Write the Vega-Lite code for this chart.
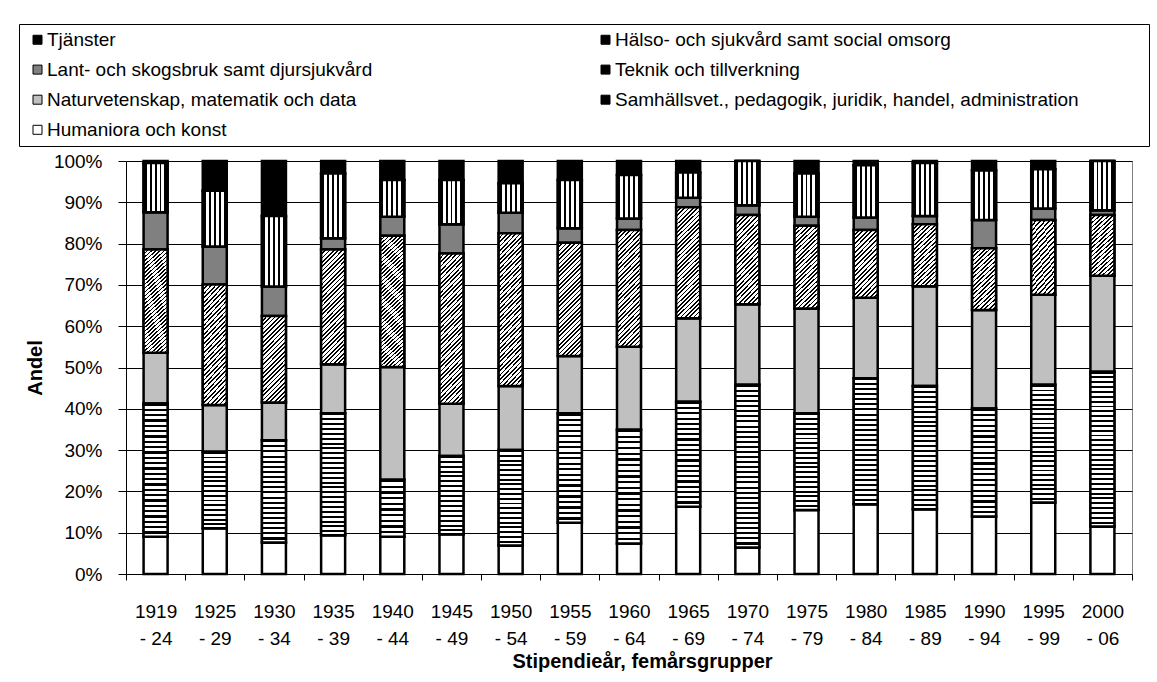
{
"$schema":"https://vega.github.io/schema/vega-lite/v6.json",
"width":1006,"height":413,
"autosize":{"type":"none"},
"padding":{"left":126,"top":161,"right":25,"bottom":108},
"background":"white",
"datasets":{
"cats":[{"k":"hum","c":"Humaniora och konst","r":1},{"k":"sam","c":"Samhällsvet., pedagogik, juridik, handel, administration","r":2},{"k":"nat","c":"Naturvetenskap, matematik och data","r":3},{"k":"tek","c":"Teknik och tillverkning","r":4},{"k":"lan","c":"Lant- och skogsbruk samt djursjukvård","r":5},{"k":"hal","c":"Hälso- och sjukvård samt social omsorg","r":6},{"k":"tja","c":"Tjänster","r":7}],
"shares":[
{"p":"1919 - 24","k":"hum","v":9.0},{"p":"1919 - 24","k":"sam","v":32.3},{"p":"1919 - 24","k":"nat","v":12.3},{"p":"1919 - 24","k":"tek","v":25.0},{"p":"1919 - 24","k":"lan","v":9.0},{"p":"1919 - 24","k":"hal","v":11.9},{"p":"1919 - 24","k":"tja","v":0.5},
{"p":"1925 - 29","k":"hum","v":11.1},{"p":"1925 - 29","k":"sam","v":18.5},{"p":"1925 - 29","k":"nat","v":11.3},{"p":"1925 - 29","k":"tek","v":29.2},{"p":"1925 - 29","k":"lan","v":9.2},{"p":"1925 - 29","k":"hal","v":13.5},{"p":"1925 - 29","k":"tja","v":7.2},
{"p":"1930 - 34","k":"hum","v":7.6},{"p":"1930 - 34","k":"sam","v":24.8},{"p":"1930 - 34","k":"nat","v":9.1},{"p":"1930 - 34","k":"tek","v":21.0},{"p":"1930 - 34","k":"lan","v":7.1},{"p":"1930 - 34","k":"hal","v":17.1},{"p":"1930 - 34","k":"tja","v":13.3},
{"p":"1935 - 39","k":"hum","v":9.4},{"p":"1935 - 39","k":"sam","v":29.5},{"p":"1935 - 39","k":"nat","v":11.9},{"p":"1935 - 39","k":"tek","v":27.8},{"p":"1935 - 39","k":"lan","v":2.7},{"p":"1935 - 39","k":"hal","v":15.7},{"p":"1935 - 39","k":"tja","v":3.0},
{"p":"1940 - 44","k":"hum","v":9.0},{"p":"1940 - 44","k":"sam","v":13.8},{"p":"1940 - 44","k":"nat","v":27.3},{"p":"1940 - 44","k":"tek","v":31.8},{"p":"1940 - 44","k":"lan","v":4.6},{"p":"1940 - 44","k":"hal","v":8.9},{"p":"1940 - 44","k":"tja","v":4.6},
{"p":"1945 - 49","k":"hum","v":9.6},{"p":"1945 - 49","k":"sam","v":19.0},{"p":"1945 - 49","k":"nat","v":12.6},{"p":"1945 - 49","k":"tek","v":36.4},{"p":"1945 - 49","k":"lan","v":7.1},{"p":"1945 - 49","k":"hal","v":10.7},{"p":"1945 - 49","k":"tja","v":4.6},
{"p":"1950 - 54","k":"hum","v":6.9},{"p":"1950 - 54","k":"sam","v":23.1},{"p":"1950 - 54","k":"nat","v":15.5},{"p":"1950 - 54","k":"tek","v":37.0},{"p":"1950 - 54","k":"lan","v":5.0},{"p":"1950 - 54","k":"hal","v":7.1},{"p":"1950 - 54","k":"tja","v":5.4},
{"p":"1955 - 59","k":"hum","v":12.4},{"p":"1955 - 59","k":"sam","v":26.5},{"p":"1955 - 59","k":"nat","v":13.9},{"p":"1955 - 59","k":"tek","v":27.4},{"p":"1955 - 59","k":"lan","v":3.5},{"p":"1955 - 59","k":"hal","v":11.7},{"p":"1955 - 59","k":"tja","v":4.6},
{"p":"1960 - 64","k":"hum","v":7.4},{"p":"1960 - 64","k":"sam","v":27.5},{"p":"1960 - 64","k":"nat","v":20.1},{"p":"1960 - 64","k":"tek","v":28.3},{"p":"1960 - 64","k":"lan","v":2.8},{"p":"1960 - 64","k":"hal","v":10.5},{"p":"1960 - 64","k":"tja","v":3.4},
{"p":"1965 - 69","k":"hum","v":16.3},{"p":"1965 - 69","k":"sam","v":25.4},{"p":"1965 - 69","k":"nat","v":20.2},{"p":"1965 - 69","k":"tek","v":26.9},{"p":"1965 - 69","k":"lan","v":2.3},{"p":"1965 - 69","k":"hal","v":6.1},{"p":"1965 - 69","k":"tja","v":2.8},
{"p":"1970 - 74","k":"hum","v":6.4},{"p":"1970 - 74","k":"sam","v":39.4},{"p":"1970 - 74","k":"nat","v":19.5},{"p":"1970 - 74","k":"tek","v":21.6},{"p":"1970 - 74","k":"lan","v":2.4},{"p":"1970 - 74","k":"hal","v":10.7},{"p":"1970 - 74","k":"tja","v":0},
{"p":"1975 - 79","k":"hum","v":15.5},{"p":"1975 - 79","k":"sam","v":23.4},{"p":"1975 - 79","k":"nat","v":25.4},{"p":"1975 - 79","k":"tek","v":20.0},{"p":"1975 - 79","k":"lan","v":2.2},{"p":"1975 - 79","k":"hal","v":10.5},{"p":"1975 - 79","k":"tja","v":3.0},
{"p":"1980 - 84","k":"hum","v":16.9},{"p":"1980 - 84","k":"sam","v":30.5},{"p":"1980 - 84","k":"nat","v":19.5},{"p":"1980 - 84","k":"tek","v":16.4},{"p":"1980 - 84","k":"lan","v":3.0},{"p":"1980 - 84","k":"hal","v":12.7},{"p":"1980 - 84","k":"tja","v":1.0},
{"p":"1985 - 89","k":"hum","v":15.7},{"p":"1985 - 89","k":"sam","v":29.8},{"p":"1985 - 89","k":"nat","v":24.2},{"p":"1985 - 89","k":"tek","v":15.0},{"p":"1985 - 89","k":"lan","v":2.0},{"p":"1985 - 89","k":"hal","v":12.8},{"p":"1985 - 89","k":"tja","v":0.5},
{"p":"1990 - 94","k":"hum","v":13.9},{"p":"1990 - 94","k":"sam","v":26.2},{"p":"1990 - 94","k":"nat","v":23.8},{"p":"1990 - 94","k":"tek","v":15.0},{"p":"1990 - 94","k":"lan","v":6.8},{"p":"1990 - 94","k":"hal","v":12.0},{"p":"1990 - 94","k":"tja","v":2.3},
{"p":"1995 - 99","k":"hum","v":17.3},{"p":"1995 - 99","k":"sam","v":28.5},{"p":"1995 - 99","k":"nat","v":21.8},{"p":"1995 - 99","k":"tek","v":18.1},{"p":"1995 - 99","k":"lan","v":2.8},{"p":"1995 - 99","k":"hal","v":9.5},{"p":"1995 - 99","k":"tja","v":2.0},
{"p":"2000 - 06","k":"hum","v":11.5},{"p":"2000 - 06","k":"sam","v":37.5},{"p":"2000 - 06","k":"nat","v":23.2},{"p":"2000 - 06","k":"tek","v":14.7},{"p":"2000 - 06","k":"lan","v":1.2},{"p":"2000 - 06","k":"hal","v":11.9},{"p":"2000 - 06","k":"tja","v":0}
]},
"data":{"name":"shares"},
"transform":[
 {"lookup":"k","from":{"data":{"name":"cats"},"key":"k","fields":["c","r"]}},
 {"stack":"v","groupby":["p"],"sort":[{"field":"r","order":"ascending"}],"as":["y0","y1"]}
],
"encoding":{
"x":{"field":"p","type":"ordinal","sort":null,"scale":{"paddingInner":0,"paddingOuter":0},
 "axis":{"title":"Stipendieår, femårsgrupper","titleFontSize":20,"titleFontWeight":"bold","titleColor":"#000","titlePadding":3,"titleX":516,"titleAlign":"center","labelAngle":0,"labelFontSize":19,"labelColor":"#000","labelPadding":22,"labelLineHeight":27,"labelExpr":"[slice(datum.label,0,4), slice(datum.label,5)]","tickBand":"extent","tickSize":6,"tickColor":"#000","domainColor":"#000","grid":false}},
"y":{"field":"y0","type":"quantitative","scale":{"domain":[0,100],"nice":false},
 "axis":{"title":"Andel","titleFontSize":20,"titleFontWeight":"bold","titleColor":"#000","titlePadding":8,"values":[0,10,20,30,40,50,60,70,80,90,100],"labelExpr":"datum.value + '%'","labelFontSize":19,"labelColor":"#000","labelPadding":16,"tickSize":8,"tickColor":"#000","domainColor":"#000","grid":true,"gridColor":"#000","gridWidth":1}},
"y2":{"field":"y1"}
},
"layer":[
{"mark":{"type":"bar","width":24,"stroke":"#000","strokeWidth":2.5},
 "encoding":{"fill":{"field":"c","type":"nominal",
  "scale":{"domain":["Tjänster","Lant- och skogsbruk samt djursjukvård","Naturvetenskap, matematik och data","Humaniora och konst","Hälso- och sjukvård samt social omsorg","Teknik och tillverkning","Samhällsvet., pedagogik, juridik, handel, administration"],"range":["#000","#808080","#c0c0c0","#fff","#000","#000","#000"]},
  "legend":{"title":"\u2003\u2003\u2003\u2003","titleOrient":"right","titleFontSize":19,"titlePadding":64,"orient":"none","legendX":-107,"legendY":-137,"columns":2,"columnPadding":220,"rowPadding":10.1,"padding":6,"symbolOffset":3,"symbolType":"square","symbolSize":81,"symbolStrokeColor":"#000","symbolStrokeWidth":1,"labelFontSize":19,"labelColor":"#000","labelOffset":0,"labelLimit":0,"strokeColor":"#000","fillColor":"#fff"}}}},
{"transform":[{"filter":"datum.k==='hal'"}],
 "mark":{"type":"bar","width":24,"stroke":"#000","strokeWidth":2.5,"fill":{"gradient":"linear","x1":0,"y1":0,"x2":1,"y2":0,"stops":[{"offset":0,"color":"#000"},{"offset":0.13,"color":"#000"},{"offset":0.13,"color":"#fff"},{"offset":0.255,"color":"#fff"},{"offset":0.255,"color":"#000"},{"offset":0.335,"color":"#000"},{"offset":0.335,"color":"#fff"},{"offset":0.46,"color":"#fff"},{"offset":0.46,"color":"#000"},{"offset":0.54,"color":"#000"},{"offset":0.54,"color":"#fff"},{"offset":0.665,"color":"#fff"},{"offset":0.665,"color":"#000"},{"offset":0.745,"color":"#000"},{"offset":0.745,"color":"#fff"},{"offset":0.87,"color":"#fff"},{"offset":0.87,"color":"#000"},{"offset":1,"color":"#000"}]}}},
{"transform":[{"filter":"datum.k==='tek' && datum.v < 19"}],
 "mark":{"type":"bar","width":24,"stroke":"#000","strokeWidth":2.5,"fill":{"gradient":"linear","x1":0,"y1":0,"x2":0.438,"y2":1.205,"stops":[{"offset":0,"color":"#000"},{"offset":0.02,"color":"#000"},{"offset":0.02,"color":"#fff"},{"offset":0.05,"color":"#fff"},{"offset":0.05,"color":"#000"},{"offset":0.07,"color":"#000"},{"offset":0.07,"color":"#fff"},{"offset":0.1,"color":"#fff"},{"offset":0.1,"color":"#000"},{"offset":0.12,"color":"#000"},{"offset":0.12,"color":"#fff"},{"offset":0.15,"color":"#fff"},{"offset":0.15,"color":"#000"},{"offset":0.17,"color":"#000"},{"offset":0.17,"color":"#fff"},{"offset":0.2,"color":"#fff"},{"offset":0.2,"color":"#000"},{"offset":0.22,"color":"#000"},{"offset":0.22,"color":"#fff"},{"offset":0.25,"color":"#fff"},{"offset":0.25,"color":"#000"},{"offset":0.27,"color":"#000"},{"offset":0.27,"color":"#fff"},{"offset":0.3,"color":"#fff"},{"offset":0.3,"color":"#000"},{"offset":0.32,"color":"#000"},{"offset":0.32,"color":"#fff"},{"offset":0.35,"color":"#fff"},{"offset":0.35,"color":"#000"},{"offset":0.37,"color":"#000"},{"offset":0.37,"color":"#fff"},{"offset":0.4,"color":"#fff"},{"offset":0.4,"color":"#000"},{"offset":0.42,"color":"#000"},{"offset":0.42,"color":"#fff"},{"offset":0.45,"color":"#fff"},{"offset":0.45,"color":"#000"},{"offset":0.47,"color":"#000"},{"offset":0.47,"color":"#fff"},{"offset":0.5,"color":"#fff"},{"offset":0.5,"color":"#000"},{"offset":0.52,"color":"#000"},{"offset":0.52,"color":"#fff"},{"offset":0.55,"color":"#fff"},{"offset":0.55,"color":"#000"},{"offset":0.57,"color":"#000"},{"offset":0.57,"color":"#fff"},{"offset":0.6,"color":"#fff"},{"offset":0.6,"color":"#000"},{"offset":0.62,"color":"#000"},{"offset":0.62,"color":"#fff"},{"offset":0.65,"color":"#fff"},{"offset":0.65,"color":"#000"},{"offset":0.67,"color":"#000"},{"offset":0.67,"color":"#fff"},{"offset":0.7,"color":"#fff"},{"offset":0.7,"color":"#000"},{"offset":0.72,"color":"#000"},{"offset":0.72,"color":"#fff"},{"offset":0.75,"color":"#fff"},{"offset":0.75,"color":"#000"},{"offset":0.77,"color":"#000"},{"offset":0.77,"color":"#fff"},{"offset":0.8,"color":"#fff"},{"offset":0.8,"color":"#000"},{"offset":0.82,"color":"#000"},{"offset":0.82,"color":"#fff"},{"offset":0.85,"color":"#fff"},{"offset":0.85,"color":"#000"},{"offset":0.87,"color":"#000"},{"offset":0.87,"color":"#fff"},{"offset":0.9,"color":"#fff"},{"offset":0.9,"color":"#000"},{"offset":0.92,"color":"#000"},{"offset":0.92,"color":"#fff"},{"offset":0.95,"color":"#fff"},{"offset":0.95,"color":"#000"},{"offset":0.97,"color":"#000"},{"offset":0.97,"color":"#fff"},{"offset":1,"color":"#fff"}]}}},
{"transform":[{"filter":"datum.k==='tek' && datum.v >= 19 && datum.v < 23"}],
 "mark":{"type":"bar","width":24,"stroke":"#000","strokeWidth":2.5,"fill":{"gradient":"linear","x1":0,"y1":0,"x2":0.331,"y2":1.187,"stops":[{"offset":0,"color":"#000"},{"offset":0.016,"color":"#000"},{"offset":0.016,"color":"#fff"},{"offset":0.04,"color":"#fff"},{"offset":0.04,"color":"#000"},{"offset":0.056,"color":"#000"},{"offset":0.056,"color":"#fff"},{"offset":0.08,"color":"#fff"},{"offset":0.08,"color":"#000"},{"offset":0.096,"color":"#000"},{"offset":0.096,"color":"#fff"},{"offset":0.12,"color":"#fff"},{"offset":0.12,"color":"#000"},{"offset":0.136,"color":"#000"},{"offset":0.136,"color":"#fff"},{"offset":0.16,"color":"#fff"},{"offset":0.16,"color":"#000"},{"offset":0.176,"color":"#000"},{"offset":0.176,"color":"#fff"},{"offset":0.2,"color":"#fff"},{"offset":0.2,"color":"#000"},{"offset":0.216,"color":"#000"},{"offset":0.216,"color":"#fff"},{"offset":0.24,"color":"#fff"},{"offset":0.24,"color":"#000"},{"offset":0.256,"color":"#000"},{"offset":0.256,"color":"#fff"},{"offset":0.28,"color":"#fff"},{"offset":0.28,"color":"#000"},{"offset":0.296,"color":"#000"},{"offset":0.296,"color":"#fff"},{"offset":0.32,"color":"#fff"},{"offset":0.32,"color":"#000"},{"offset":0.336,"color":"#000"},{"offset":0.336,"color":"#fff"},{"offset":0.36,"color":"#fff"},{"offset":0.36,"color":"#000"},{"offset":0.376,"color":"#000"},{"offset":0.376,"color":"#fff"},{"offset":0.4,"color":"#fff"},{"offset":0.4,"color":"#000"},{"offset":0.416,"color":"#000"},{"offset":0.416,"color":"#fff"},{"offset":0.44,"color":"#fff"},{"offset":0.44,"color":"#000"},{"offset":0.456,"color":"#000"},{"offset":0.456,"color":"#fff"},{"offset":0.48,"color":"#fff"},{"offset":0.48,"color":"#000"},{"offset":0.496,"color":"#000"},{"offset":0.496,"color":"#fff"},{"offset":0.52,"color":"#fff"},{"offset":0.52,"color":"#000"},{"offset":0.536,"color":"#000"},{"offset":0.536,"color":"#fff"},{"offset":0.56,"color":"#fff"},{"offset":0.56,"color":"#000"},{"offset":0.576,"color":"#000"},{"offset":0.576,"color":"#fff"},{"offset":0.6,"color":"#fff"},{"offset":0.6,"color":"#000"},{"offset":0.616,"color":"#000"},{"offset":0.616,"color":"#fff"},{"offset":0.64,"color":"#fff"},{"offset":0.64,"color":"#000"},{"offset":0.656,"color":"#000"},{"offset":0.656,"color":"#fff"},{"offset":0.68,"color":"#fff"},{"offset":0.68,"color":"#000"},{"offset":0.696,"color":"#000"},{"offset":0.696,"color":"#fff"},{"offset":0.72,"color":"#fff"},{"offset":0.72,"color":"#000"},{"offset":0.736,"color":"#000"},{"offset":0.736,"color":"#fff"},{"offset":0.76,"color":"#fff"},{"offset":0.76,"color":"#000"},{"offset":0.776,"color":"#000"},{"offset":0.776,"color":"#fff"},{"offset":0.8,"color":"#fff"},{"offset":0.8,"color":"#000"},{"offset":0.816,"color":"#000"},{"offset":0.816,"color":"#fff"},{"offset":0.84,"color":"#fff"},{"offset":0.84,"color":"#000"},{"offset":0.856,"color":"#000"},{"offset":0.856,"color":"#fff"},{"offset":0.88,"color":"#fff"},{"offset":0.88,"color":"#000"},{"offset":0.896,"color":"#000"},{"offset":0.896,"color":"#fff"},{"offset":0.92,"color":"#fff"},{"offset":0.92,"color":"#000"},{"offset":0.936,"color":"#000"},{"offset":0.936,"color":"#fff"},{"offset":0.96,"color":"#fff"},{"offset":0.96,"color":"#000"},{"offset":0.976,"color":"#000"},{"offset":0.976,"color":"#fff"},{"offset":1,"color":"#fff"}]}}},
{"transform":[{"filter":"datum.k==='tek' && datum.v >= 23 && datum.v < 30"}],
 "mark":{"type":"bar","width":24,"stroke":"#000","strokeWidth":2.5,"fill":{"gradient":"linear","x1":0,"y1":0,"x2":0.246,"y2":1.16,"stops":[{"offset":0,"color":"#000"},{"offset":0.0125,"color":"#000"},{"offset":0.0125,"color":"#fff"},{"offset":0.03125,"color":"#fff"},{"offset":0.03125,"color":"#000"},{"offset":0.04375,"color":"#000"},{"offset":0.04375,"color":"#fff"},{"offset":0.0625,"color":"#fff"},{"offset":0.0625,"color":"#000"},{"offset":0.075,"color":"#000"},{"offset":0.075,"color":"#fff"},{"offset":0.09375,"color":"#fff"},{"offset":0.09375,"color":"#000"},{"offset":0.10625,"color":"#000"},{"offset":0.10625,"color":"#fff"},{"offset":0.125,"color":"#fff"},{"offset":0.125,"color":"#000"},{"offset":0.1375,"color":"#000"},{"offset":0.1375,"color":"#fff"},{"offset":0.15625,"color":"#fff"},{"offset":0.15625,"color":"#000"},{"offset":0.16875,"color":"#000"},{"offset":0.16875,"color":"#fff"},{"offset":0.1875,"color":"#fff"},{"offset":0.1875,"color":"#000"},{"offset":0.2,"color":"#000"},{"offset":0.2,"color":"#fff"},{"offset":0.21875,"color":"#fff"},{"offset":0.21875,"color":"#000"},{"offset":0.23125,"color":"#000"},{"offset":0.23125,"color":"#fff"},{"offset":0.25,"color":"#fff"},{"offset":0.25,"color":"#000"},{"offset":0.2625,"color":"#000"},{"offset":0.2625,"color":"#fff"},{"offset":0.28125,"color":"#fff"},{"offset":0.28125,"color":"#000"},{"offset":0.29375,"color":"#000"},{"offset":0.29375,"color":"#fff"},{"offset":0.3125,"color":"#fff"},{"offset":0.3125,"color":"#000"},{"offset":0.325,"color":"#000"},{"offset":0.325,"color":"#fff"},{"offset":0.34375,"color":"#fff"},{"offset":0.34375,"color":"#000"},{"offset":0.35625,"color":"#000"},{"offset":0.35625,"color":"#fff"},{"offset":0.375,"color":"#fff"},{"offset":0.375,"color":"#000"},{"offset":0.3875,"color":"#000"},{"offset":0.3875,"color":"#fff"},{"offset":0.40625,"color":"#fff"},{"offset":0.40625,"color":"#000"},{"offset":0.41875,"color":"#000"},{"offset":0.41875,"color":"#fff"},{"offset":0.4375,"color":"#fff"},{"offset":0.4375,"color":"#000"},{"offset":0.45,"color":"#000"},{"offset":0.45,"color":"#fff"},{"offset":0.46875,"color":"#fff"},{"offset":0.46875,"color":"#000"},{"offset":0.48125,"color":"#000"},{"offset":0.48125,"color":"#fff"},{"offset":0.5,"color":"#fff"},{"offset":0.5,"color":"#000"},{"offset":0.5125,"color":"#000"},{"offset":0.5125,"color":"#fff"},{"offset":0.53125,"color":"#fff"},{"offset":0.53125,"color":"#000"},{"offset":0.54375,"color":"#000"},{"offset":0.54375,"color":"#fff"},{"offset":0.5625,"color":"#fff"},{"offset":0.5625,"color":"#000"},{"offset":0.575,"color":"#000"},{"offset":0.575,"color":"#fff"},{"offset":0.59375,"color":"#fff"},{"offset":0.59375,"color":"#000"},{"offset":0.60625,"color":"#000"},{"offset":0.60625,"color":"#fff"},{"offset":0.625,"color":"#fff"},{"offset":0.625,"color":"#000"},{"offset":0.6375,"color":"#000"},{"offset":0.6375,"color":"#fff"},{"offset":0.65625,"color":"#fff"},{"offset":0.65625,"color":"#000"},{"offset":0.66875,"color":"#000"},{"offset":0.66875,"color":"#fff"},{"offset":0.6875,"color":"#fff"},{"offset":0.6875,"color":"#000"},{"offset":0.7,"color":"#000"},{"offset":0.7,"color":"#fff"},{"offset":0.71875,"color":"#fff"},{"offset":0.71875,"color":"#000"},{"offset":0.73125,"color":"#000"},{"offset":0.73125,"color":"#fff"},{"offset":0.75,"color":"#fff"},{"offset":0.75,"color":"#000"},{"offset":0.7625,"color":"#000"},{"offset":0.7625,"color":"#fff"},{"offset":0.78125,"color":"#fff"},{"offset":0.78125,"color":"#000"},{"offset":0.79375,"color":"#000"},{"offset":0.79375,"color":"#fff"},{"offset":0.8125,"color":"#fff"},{"offset":0.8125,"color":"#000"},{"offset":0.825,"color":"#000"},{"offset":0.825,"color":"#fff"},{"offset":0.84375,"color":"#fff"},{"offset":0.84375,"color":"#000"},{"offset":0.85625,"color":"#000"},{"offset":0.85625,"color":"#fff"},{"offset":0.875,"color":"#fff"},{"offset":0.875,"color":"#000"},{"offset":0.8875,"color":"#000"},{"offset":0.8875,"color":"#fff"},{"offset":0.90625,"color":"#fff"},{"offset":0.90625,"color":"#000"},{"offset":0.91875,"color":"#000"},{"offset":0.91875,"color":"#fff"},{"offset":0.9375,"color":"#fff"},{"offset":0.9375,"color":"#000"},{"offset":0.95,"color":"#000"},{"offset":0.95,"color":"#fff"},{"offset":0.96875,"color":"#fff"},{"offset":0.96875,"color":"#000"},{"offset":0.98125,"color":"#000"},{"offset":0.98125,"color":"#fff"},{"offset":1,"color":"#fff"}]}}},
{"transform":[{"filter":"datum.k==='tek' && datum.v >= 30"}],
 "mark":{"type":"bar","width":24,"stroke":"#000","strokeWidth":2.5,"fill":{"gradient":"linear","x1":0,"y1":0,"x2":0.188,"y2":1.134,"stops":[{"offset":0,"color":"#000"},{"offset":0.01,"color":"#000"},{"offset":0.01,"color":"#fff"},{"offset":0.025,"color":"#fff"},{"offset":0.025,"color":"#000"},{"offset":0.035,"color":"#000"},{"offset":0.035,"color":"#fff"},{"offset":0.05,"color":"#fff"},{"offset":0.05,"color":"#000"},{"offset":0.06,"color":"#000"},{"offset":0.06,"color":"#fff"},{"offset":0.075,"color":"#fff"},{"offset":0.075,"color":"#000"},{"offset":0.085,"color":"#000"},{"offset":0.085,"color":"#fff"},{"offset":0.1,"color":"#fff"},{"offset":0.1,"color":"#000"},{"offset":0.11,"color":"#000"},{"offset":0.11,"color":"#fff"},{"offset":0.125,"color":"#fff"},{"offset":0.125,"color":"#000"},{"offset":0.135,"color":"#000"},{"offset":0.135,"color":"#fff"},{"offset":0.15,"color":"#fff"},{"offset":0.15,"color":"#000"},{"offset":0.16,"color":"#000"},{"offset":0.16,"color":"#fff"},{"offset":0.175,"color":"#fff"},{"offset":0.175,"color":"#000"},{"offset":0.185,"color":"#000"},{"offset":0.185,"color":"#fff"},{"offset":0.2,"color":"#fff"},{"offset":0.2,"color":"#000"},{"offset":0.21,"color":"#000"},{"offset":0.21,"color":"#fff"},{"offset":0.225,"color":"#fff"},{"offset":0.225,"color":"#000"},{"offset":0.235,"color":"#000"},{"offset":0.235,"color":"#fff"},{"offset":0.25,"color":"#fff"},{"offset":0.25,"color":"#000"},{"offset":0.26,"color":"#000"},{"offset":0.26,"color":"#fff"},{"offset":0.275,"color":"#fff"},{"offset":0.275,"color":"#000"},{"offset":0.285,"color":"#000"},{"offset":0.285,"color":"#fff"},{"offset":0.3,"color":"#fff"},{"offset":0.3,"color":"#000"},{"offset":0.31,"color":"#000"},{"offset":0.31,"color":"#fff"},{"offset":0.325,"color":"#fff"},{"offset":0.325,"color":"#000"},{"offset":0.335,"color":"#000"},{"offset":0.335,"color":"#fff"},{"offset":0.35,"color":"#fff"},{"offset":0.35,"color":"#000"},{"offset":0.36,"color":"#000"},{"offset":0.36,"color":"#fff"},{"offset":0.375,"color":"#fff"},{"offset":0.375,"color":"#000"},{"offset":0.385,"color":"#000"},{"offset":0.385,"color":"#fff"},{"offset":0.4,"color":"#fff"},{"offset":0.4,"color":"#000"},{"offset":0.41,"color":"#000"},{"offset":0.41,"color":"#fff"},{"offset":0.425,"color":"#fff"},{"offset":0.425,"color":"#000"},{"offset":0.435,"color":"#000"},{"offset":0.435,"color":"#fff"},{"offset":0.45,"color":"#fff"},{"offset":0.45,"color":"#000"},{"offset":0.46,"color":"#000"},{"offset":0.46,"color":"#fff"},{"offset":0.475,"color":"#fff"},{"offset":0.475,"color":"#000"},{"offset":0.485,"color":"#000"},{"offset":0.485,"color":"#fff"},{"offset":0.5,"color":"#fff"},{"offset":0.5,"color":"#000"},{"offset":0.51,"color":"#000"},{"offset":0.51,"color":"#fff"},{"offset":0.525,"color":"#fff"},{"offset":0.525,"color":"#000"},{"offset":0.535,"color":"#000"},{"offset":0.535,"color":"#fff"},{"offset":0.55,"color":"#fff"},{"offset":0.55,"color":"#000"},{"offset":0.56,"color":"#000"},{"offset":0.56,"color":"#fff"},{"offset":0.575,"color":"#fff"},{"offset":0.575,"color":"#000"},{"offset":0.585,"color":"#000"},{"offset":0.585,"color":"#fff"},{"offset":0.6,"color":"#fff"},{"offset":0.6,"color":"#000"},{"offset":0.61,"color":"#000"},{"offset":0.61,"color":"#fff"},{"offset":0.625,"color":"#fff"},{"offset":0.625,"color":"#000"},{"offset":0.635,"color":"#000"},{"offset":0.635,"color":"#fff"},{"offset":0.65,"color":"#fff"},{"offset":0.65,"color":"#000"},{"offset":0.66,"color":"#000"},{"offset":0.66,"color":"#fff"},{"offset":0.675,"color":"#fff"},{"offset":0.675,"color":"#000"},{"offset":0.685,"color":"#000"},{"offset":0.685,"color":"#fff"},{"offset":0.7,"color":"#fff"},{"offset":0.7,"color":"#000"},{"offset":0.71,"color":"#000"},{"offset":0.71,"color":"#fff"},{"offset":0.725,"color":"#fff"},{"offset":0.725,"color":"#000"},{"offset":0.735,"color":"#000"},{"offset":0.735,"color":"#fff"},{"offset":0.75,"color":"#fff"},{"offset":0.75,"color":"#000"},{"offset":0.76,"color":"#000"},{"offset":0.76,"color":"#fff"},{"offset":0.775,"color":"#fff"},{"offset":0.775,"color":"#000"},{"offset":0.785,"color":"#000"},{"offset":0.785,"color":"#fff"},{"offset":0.8,"color":"#fff"},{"offset":0.8,"color":"#000"},{"offset":0.81,"color":"#000"},{"offset":0.81,"color":"#fff"},{"offset":0.825,"color":"#fff"},{"offset":0.825,"color":"#000"},{"offset":0.835,"color":"#000"},{"offset":0.835,"color":"#fff"},{"offset":0.85,"color":"#fff"},{"offset":0.85,"color":"#000"},{"offset":0.86,"color":"#000"},{"offset":0.86,"color":"#fff"},{"offset":0.875,"color":"#fff"},{"offset":0.875,"color":"#000"},{"offset":0.885,"color":"#000"},{"offset":0.885,"color":"#fff"},{"offset":0.9,"color":"#fff"},{"offset":0.9,"color":"#000"},{"offset":0.91,"color":"#000"},{"offset":0.91,"color":"#fff"},{"offset":0.925,"color":"#fff"},{"offset":0.925,"color":"#000"},{"offset":0.935,"color":"#000"},{"offset":0.935,"color":"#fff"},{"offset":0.95,"color":"#fff"},{"offset":0.95,"color":"#000"},{"offset":0.96,"color":"#000"},{"offset":0.96,"color":"#fff"},{"offset":0.975,"color":"#fff"},{"offset":0.975,"color":"#000"},{"offset":0.985,"color":"#000"},{"offset":0.985,"color":"#fff"},{"offset":1,"color":"#fff"}]}}},
{"transform":[{"filter":"datum.k==='sam' && datum.v < 16"}],
 "mark":{"type":"bar","width":24,"stroke":"#000","strokeWidth":2.5,"fill":{"gradient":"linear","x1":0,"y1":0,"x2":0,"y2":1,"stops":[{"offset":0,"color":"#000"},{"offset":0.04,"color":"#000"},{"offset":0.04,"color":"#fff"},{"offset":0.1,"color":"#fff"},{"offset":0.1,"color":"#000"},{"offset":0.14,"color":"#000"},{"offset":0.14,"color":"#fff"},{"offset":0.2,"color":"#fff"},{"offset":0.2,"color":"#000"},{"offset":0.24,"color":"#000"},{"offset":0.24,"color":"#fff"},{"offset":0.3,"color":"#fff"},{"offset":0.3,"color":"#000"},{"offset":0.34,"color":"#000"},{"offset":0.34,"color":"#fff"},{"offset":0.4,"color":"#fff"},{"offset":0.4,"color":"#000"},{"offset":0.44,"color":"#000"},{"offset":0.44,"color":"#fff"},{"offset":0.5,"color":"#fff"},{"offset":0.5,"color":"#000"},{"offset":0.54,"color":"#000"},{"offset":0.54,"color":"#fff"},{"offset":0.6,"color":"#fff"},{"offset":0.6,"color":"#000"},{"offset":0.64,"color":"#000"},{"offset":0.64,"color":"#fff"},{"offset":0.7,"color":"#fff"},{"offset":0.7,"color":"#000"},{"offset":0.74,"color":"#000"},{"offset":0.74,"color":"#fff"},{"offset":0.8,"color":"#fff"},{"offset":0.8,"color":"#000"},{"offset":0.84,"color":"#000"},{"offset":0.84,"color":"#fff"},{"offset":0.9,"color":"#fff"},{"offset":0.9,"color":"#000"},{"offset":0.94,"color":"#000"},{"offset":0.94,"color":"#fff"},{"offset":1,"color":"#fff"}]}}},
{"transform":[{"filter":"datum.k==='sam' && datum.v >= 16 && datum.v < 21"}],
 "mark":{"type":"bar","width":24,"stroke":"#000","strokeWidth":2.5,"fill":{"gradient":"linear","x1":0,"y1":0,"x2":0,"y2":1,"stops":[{"offset":0,"color":"#000"},{"offset":0.025,"color":"#000"},{"offset":0.025,"color":"#fff"},{"offset":0.0625,"color":"#fff"},{"offset":0.0625,"color":"#000"},{"offset":0.0875,"color":"#000"},{"offset":0.0875,"color":"#fff"},{"offset":0.125,"color":"#fff"},{"offset":0.125,"color":"#000"},{"offset":0.15,"color":"#000"},{"offset":0.15,"color":"#fff"},{"offset":0.1875,"color":"#fff"},{"offset":0.1875,"color":"#000"},{"offset":0.2125,"color":"#000"},{"offset":0.2125,"color":"#fff"},{"offset":0.25,"color":"#fff"},{"offset":0.25,"color":"#000"},{"offset":0.275,"color":"#000"},{"offset":0.275,"color":"#fff"},{"offset":0.3125,"color":"#fff"},{"offset":0.3125,"color":"#000"},{"offset":0.3375,"color":"#000"},{"offset":0.3375,"color":"#fff"},{"offset":0.375,"color":"#fff"},{"offset":0.375,"color":"#000"},{"offset":0.4,"color":"#000"},{"offset":0.4,"color":"#fff"},{"offset":0.4375,"color":"#fff"},{"offset":0.4375,"color":"#000"},{"offset":0.4625,"color":"#000"},{"offset":0.4625,"color":"#fff"},{"offset":0.5,"color":"#fff"},{"offset":0.5,"color":"#000"},{"offset":0.525,"color":"#000"},{"offset":0.525,"color":"#fff"},{"offset":0.5625,"color":"#fff"},{"offset":0.5625,"color":"#000"},{"offset":0.5875,"color":"#000"},{"offset":0.5875,"color":"#fff"},{"offset":0.625,"color":"#fff"},{"offset":0.625,"color":"#000"},{"offset":0.65,"color":"#000"},{"offset":0.65,"color":"#fff"},{"offset":0.6875,"color":"#fff"},{"offset":0.6875,"color":"#000"},{"offset":0.7125,"color":"#000"},{"offset":0.7125,"color":"#fff"},{"offset":0.75,"color":"#fff"},{"offset":0.75,"color":"#000"},{"offset":0.775,"color":"#000"},{"offset":0.775,"color":"#fff"},{"offset":0.8125,"color":"#fff"},{"offset":0.8125,"color":"#000"},{"offset":0.8375,"color":"#000"},{"offset":0.8375,"color":"#fff"},{"offset":0.875,"color":"#fff"},{"offset":0.875,"color":"#000"},{"offset":0.9,"color":"#000"},{"offset":0.9,"color":"#fff"},{"offset":0.9375,"color":"#fff"},{"offset":0.9375,"color":"#000"},{"offset":0.9625,"color":"#000"},{"offset":0.9625,"color":"#fff"},{"offset":1,"color":"#fff"}]}}},
{"transform":[{"filter":"datum.k==='sam' && datum.v >= 21 && datum.v < 28"}],
 "mark":{"type":"bar","width":24,"stroke":"#000","strokeWidth":2.5,"fill":{"gradient":"linear","x1":0,"y1":0,"x2":0,"y2":1,"stops":[{"offset":0,"color":"#000"},{"offset":0.02,"color":"#000"},{"offset":0.02,"color":"#fff"},{"offset":0.05,"color":"#fff"},{"offset":0.05,"color":"#000"},{"offset":0.07,"color":"#000"},{"offset":0.07,"color":"#fff"},{"offset":0.1,"color":"#fff"},{"offset":0.1,"color":"#000"},{"offset":0.12,"color":"#000"},{"offset":0.12,"color":"#fff"},{"offset":0.15,"color":"#fff"},{"offset":0.15,"color":"#000"},{"offset":0.17,"color":"#000"},{"offset":0.17,"color":"#fff"},{"offset":0.2,"color":"#fff"},{"offset":0.2,"color":"#000"},{"offset":0.22,"color":"#000"},{"offset":0.22,"color":"#fff"},{"offset":0.25,"color":"#fff"},{"offset":0.25,"color":"#000"},{"offset":0.27,"color":"#000"},{"offset":0.27,"color":"#fff"},{"offset":0.3,"color":"#fff"},{"offset":0.3,"color":"#000"},{"offset":0.32,"color":"#000"},{"offset":0.32,"color":"#fff"},{"offset":0.35,"color":"#fff"},{"offset":0.35,"color":"#000"},{"offset":0.37,"color":"#000"},{"offset":0.37,"color":"#fff"},{"offset":0.4,"color":"#fff"},{"offset":0.4,"color":"#000"},{"offset":0.42,"color":"#000"},{"offset":0.42,"color":"#fff"},{"offset":0.45,"color":"#fff"},{"offset":0.45,"color":"#000"},{"offset":0.47,"color":"#000"},{"offset":0.47,"color":"#fff"},{"offset":0.5,"color":"#fff"},{"offset":0.5,"color":"#000"},{"offset":0.52,"color":"#000"},{"offset":0.52,"color":"#fff"},{"offset":0.55,"color":"#fff"},{"offset":0.55,"color":"#000"},{"offset":0.57,"color":"#000"},{"offset":0.57,"color":"#fff"},{"offset":0.6,"color":"#fff"},{"offset":0.6,"color":"#000"},{"offset":0.62,"color":"#000"},{"offset":0.62,"color":"#fff"},{"offset":0.65,"color":"#fff"},{"offset":0.65,"color":"#000"},{"offset":0.67,"color":"#000"},{"offset":0.67,"color":"#fff"},{"offset":0.7,"color":"#fff"},{"offset":0.7,"color":"#000"},{"offset":0.72,"color":"#000"},{"offset":0.72,"color":"#fff"},{"offset":0.75,"color":"#fff"},{"offset":0.75,"color":"#000"},{"offset":0.77,"color":"#000"},{"offset":0.77,"color":"#fff"},{"offset":0.8,"color":"#fff"},{"offset":0.8,"color":"#000"},{"offset":0.82,"color":"#000"},{"offset":0.82,"color":"#fff"},{"offset":0.85,"color":"#fff"},{"offset":0.85,"color":"#000"},{"offset":0.87,"color":"#000"},{"offset":0.87,"color":"#fff"},{"offset":0.9,"color":"#fff"},{"offset":0.9,"color":"#000"},{"offset":0.92,"color":"#000"},{"offset":0.92,"color":"#fff"},{"offset":0.95,"color":"#fff"},{"offset":0.95,"color":"#000"},{"offset":0.97,"color":"#000"},{"offset":0.97,"color":"#fff"},{"offset":1,"color":"#fff"}]}}},
{"transform":[{"filter":"datum.k==='sam' && datum.v >= 28 && datum.v < 34"}],
 "mark":{"type":"bar","width":24,"stroke":"#000","strokeWidth":2.5,"fill":{"gradient":"linear","x1":0,"y1":0,"x2":0,"y2":1,"stops":[{"offset":0,"color":"#000"},{"offset":0.016,"color":"#000"},{"offset":0.016,"color":"#fff"},{"offset":0.04,"color":"#fff"},{"offset":0.04,"color":"#000"},{"offset":0.056,"color":"#000"},{"offset":0.056,"color":"#fff"},{"offset":0.08,"color":"#fff"},{"offset":0.08,"color":"#000"},{"offset":0.096,"color":"#000"},{"offset":0.096,"color":"#fff"},{"offset":0.12,"color":"#fff"},{"offset":0.12,"color":"#000"},{"offset":0.136,"color":"#000"},{"offset":0.136,"color":"#fff"},{"offset":0.16,"color":"#fff"},{"offset":0.16,"color":"#000"},{"offset":0.176,"color":"#000"},{"offset":0.176,"color":"#fff"},{"offset":0.2,"color":"#fff"},{"offset":0.2,"color":"#000"},{"offset":0.216,"color":"#000"},{"offset":0.216,"color":"#fff"},{"offset":0.24,"color":"#fff"},{"offset":0.24,"color":"#000"},{"offset":0.256,"color":"#000"},{"offset":0.256,"color":"#fff"},{"offset":0.28,"color":"#fff"},{"offset":0.28,"color":"#000"},{"offset":0.296,"color":"#000"},{"offset":0.296,"color":"#fff"},{"offset":0.32,"color":"#fff"},{"offset":0.32,"color":"#000"},{"offset":0.336,"color":"#000"},{"offset":0.336,"color":"#fff"},{"offset":0.36,"color":"#fff"},{"offset":0.36,"color":"#000"},{"offset":0.376,"color":"#000"},{"offset":0.376,"color":"#fff"},{"offset":0.4,"color":"#fff"},{"offset":0.4,"color":"#000"},{"offset":0.416,"color":"#000"},{"offset":0.416,"color":"#fff"},{"offset":0.44,"color":"#fff"},{"offset":0.44,"color":"#000"},{"offset":0.456,"color":"#000"},{"offset":0.456,"color":"#fff"},{"offset":0.48,"color":"#fff"},{"offset":0.48,"color":"#000"},{"offset":0.496,"color":"#000"},{"offset":0.496,"color":"#fff"},{"offset":0.52,"color":"#fff"},{"offset":0.52,"color":"#000"},{"offset":0.536,"color":"#000"},{"offset":0.536,"color":"#fff"},{"offset":0.56,"color":"#fff"},{"offset":0.56,"color":"#000"},{"offset":0.576,"color":"#000"},{"offset":0.576,"color":"#fff"},{"offset":0.6,"color":"#fff"},{"offset":0.6,"color":"#000"},{"offset":0.616,"color":"#000"},{"offset":0.616,"color":"#fff"},{"offset":0.64,"color":"#fff"},{"offset":0.64,"color":"#000"},{"offset":0.656,"color":"#000"},{"offset":0.656,"color":"#fff"},{"offset":0.68,"color":"#fff"},{"offset":0.68,"color":"#000"},{"offset":0.696,"color":"#000"},{"offset":0.696,"color":"#fff"},{"offset":0.72,"color":"#fff"},{"offset":0.72,"color":"#000"},{"offset":0.736,"color":"#000"},{"offset":0.736,"color":"#fff"},{"offset":0.76,"color":"#fff"},{"offset":0.76,"color":"#000"},{"offset":0.776,"color":"#000"},{"offset":0.776,"color":"#fff"},{"offset":0.8,"color":"#fff"},{"offset":0.8,"color":"#000"},{"offset":0.816,"color":"#000"},{"offset":0.816,"color":"#fff"},{"offset":0.84,"color":"#fff"},{"offset":0.84,"color":"#000"},{"offset":0.856,"color":"#000"},{"offset":0.856,"color":"#fff"},{"offset":0.88,"color":"#fff"},{"offset":0.88,"color":"#000"},{"offset":0.896,"color":"#000"},{"offset":0.896,"color":"#fff"},{"offset":0.92,"color":"#fff"},{"offset":0.92,"color":"#000"},{"offset":0.936,"color":"#000"},{"offset":0.936,"color":"#fff"},{"offset":0.96,"color":"#fff"},{"offset":0.96,"color":"#000"},{"offset":0.976,"color":"#000"},{"offset":0.976,"color":"#fff"},{"offset":1,"color":"#fff"}]}}},
{"transform":[{"filter":"datum.k==='sam' && datum.v >= 34"}],
 "mark":{"type":"bar","width":24,"stroke":"#000","strokeWidth":2.5,"fill":{"gradient":"linear","x1":0,"y1":0,"x2":0,"y2":1,"stops":[{"offset":0,"color":"#000"},{"offset":0.0125,"color":"#000"},{"offset":0.0125,"color":"#fff"},{"offset":0.03125,"color":"#fff"},{"offset":0.03125,"color":"#000"},{"offset":0.04375,"color":"#000"},{"offset":0.04375,"color":"#fff"},{"offset":0.0625,"color":"#fff"},{"offset":0.0625,"color":"#000"},{"offset":0.075,"color":"#000"},{"offset":0.075,"color":"#fff"},{"offset":0.09375,"color":"#fff"},{"offset":0.09375,"color":"#000"},{"offset":0.10625,"color":"#000"},{"offset":0.10625,"color":"#fff"},{"offset":0.125,"color":"#fff"},{"offset":0.125,"color":"#000"},{"offset":0.1375,"color":"#000"},{"offset":0.1375,"color":"#fff"},{"offset":0.15625,"color":"#fff"},{"offset":0.15625,"color":"#000"},{"offset":0.16875,"color":"#000"},{"offset":0.16875,"color":"#fff"},{"offset":0.1875,"color":"#fff"},{"offset":0.1875,"color":"#000"},{"offset":0.2,"color":"#000"},{"offset":0.2,"color":"#fff"},{"offset":0.21875,"color":"#fff"},{"offset":0.21875,"color":"#000"},{"offset":0.23125,"color":"#000"},{"offset":0.23125,"color":"#fff"},{"offset":0.25,"color":"#fff"},{"offset":0.25,"color":"#000"},{"offset":0.2625,"color":"#000"},{"offset":0.2625,"color":"#fff"},{"offset":0.28125,"color":"#fff"},{"offset":0.28125,"color":"#000"},{"offset":0.29375,"color":"#000"},{"offset":0.29375,"color":"#fff"},{"offset":0.3125,"color":"#fff"},{"offset":0.3125,"color":"#000"},{"offset":0.325,"color":"#000"},{"offset":0.325,"color":"#fff"},{"offset":0.34375,"color":"#fff"},{"offset":0.34375,"color":"#000"},{"offset":0.35625,"color":"#000"},{"offset":0.35625,"color":"#fff"},{"offset":0.375,"color":"#fff"},{"offset":0.375,"color":"#000"},{"offset":0.3875,"color":"#000"},{"offset":0.3875,"color":"#fff"},{"offset":0.40625,"color":"#fff"},{"offset":0.40625,"color":"#000"},{"offset":0.41875,"color":"#000"},{"offset":0.41875,"color":"#fff"},{"offset":0.4375,"color":"#fff"},{"offset":0.4375,"color":"#000"},{"offset":0.45,"color":"#000"},{"offset":0.45,"color":"#fff"},{"offset":0.46875,"color":"#fff"},{"offset":0.46875,"color":"#000"},{"offset":0.48125,"color":"#000"},{"offset":0.48125,"color":"#fff"},{"offset":0.5,"color":"#fff"},{"offset":0.5,"color":"#000"},{"offset":0.5125,"color":"#000"},{"offset":0.5125,"color":"#fff"},{"offset":0.53125,"color":"#fff"},{"offset":0.53125,"color":"#000"},{"offset":0.54375,"color":"#000"},{"offset":0.54375,"color":"#fff"},{"offset":0.5625,"color":"#fff"},{"offset":0.5625,"color":"#000"},{"offset":0.575,"color":"#000"},{"offset":0.575,"color":"#fff"},{"offset":0.59375,"color":"#fff"},{"offset":0.59375,"color":"#000"},{"offset":0.60625,"color":"#000"},{"offset":0.60625,"color":"#fff"},{"offset":0.625,"color":"#fff"},{"offset":0.625,"color":"#000"},{"offset":0.6375,"color":"#000"},{"offset":0.6375,"color":"#fff"},{"offset":0.65625,"color":"#fff"},{"offset":0.65625,"color":"#000"},{"offset":0.66875,"color":"#000"},{"offset":0.66875,"color":"#fff"},{"offset":0.6875,"color":"#fff"},{"offset":0.6875,"color":"#000"},{"offset":0.7,"color":"#000"},{"offset":0.7,"color":"#fff"},{"offset":0.71875,"color":"#fff"},{"offset":0.71875,"color":"#000"},{"offset":0.73125,"color":"#000"},{"offset":0.73125,"color":"#fff"},{"offset":0.75,"color":"#fff"},{"offset":0.75,"color":"#000"},{"offset":0.7625,"color":"#000"},{"offset":0.7625,"color":"#fff"},{"offset":0.78125,"color":"#fff"},{"offset":0.78125,"color":"#000"},{"offset":0.79375,"color":"#000"},{"offset":0.79375,"color":"#fff"},{"offset":0.8125,"color":"#fff"},{"offset":0.8125,"color":"#000"},{"offset":0.825,"color":"#000"},{"offset":0.825,"color":"#fff"},{"offset":0.84375,"color":"#fff"},{"offset":0.84375,"color":"#000"},{"offset":0.85625,"color":"#000"},{"offset":0.85625,"color":"#fff"},{"offset":0.875,"color":"#fff"},{"offset":0.875,"color":"#000"},{"offset":0.8875,"color":"#000"},{"offset":0.8875,"color":"#fff"},{"offset":0.90625,"color":"#fff"},{"offset":0.90625,"color":"#000"},{"offset":0.91875,"color":"#000"},{"offset":0.91875,"color":"#fff"},{"offset":0.9375,"color":"#fff"},{"offset":0.9375,"color":"#000"},{"offset":0.95,"color":"#000"},{"offset":0.95,"color":"#fff"},{"offset":0.96875,"color":"#fff"},{"offset":0.96875,"color":"#000"},{"offset":0.98125,"color":"#000"},{"offset":0.98125,"color":"#fff"},{"offset":1,"color":"#fff"}]}}}
],
"config":{"font":"Liberation Sans","view":{"stroke":"#808080","strokeWidth":1}}
}
